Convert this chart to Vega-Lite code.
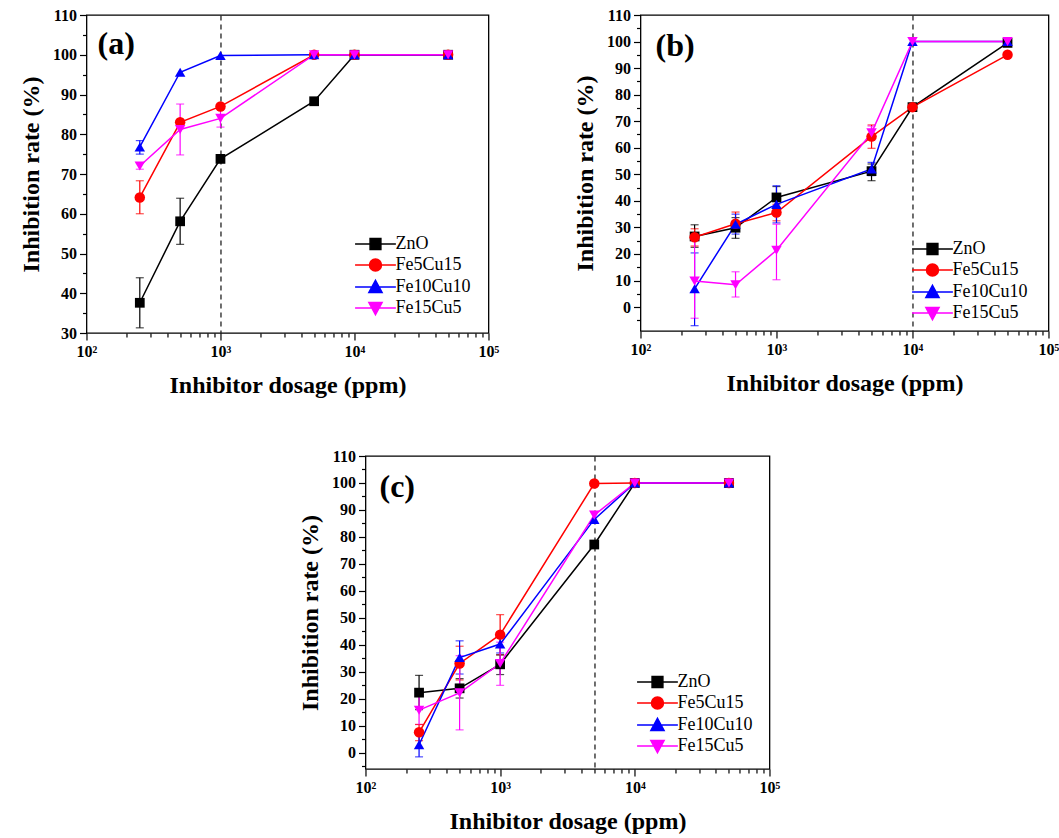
{
  "$schema": "https://vega.github.io/schema/vega-lite/v6.json",
  "background": "white",
  "padding": {"left": 18, "top": 6, "right": 0, "bottom": 5},
  "config": {
    "view": {"stroke": "black", "strokeWidth": 1.3},
    "font": "Liberation Serif",
    "axis": {"labelFont": "Liberation Serif", "labelFontWeight": "bold", "labelFontSize": 16, "labelColor": "black",
             "titleFont": "Liberation Serif", "titleFontWeight": "bold", "titleFontSize": 24, "titleColor": "black",
             "tickColor": "black", "tickWidth": 1.2, "domain": false, "grid": false, "labelOverlap": false, "labelFlush": false, "labelBound": false},
    "title": {"font": "Liberation Serif", "fontSize": 32, "fontWeight": "bold", "color": "black", "anchor": "start", "frame": "group", "baseline": "middle", "offset": 0},
    "legend": {"labelFont": "Liberation Serif", "labelFontSize": 18, "labelFontWeight": "normal", "labelColor": "black", "symbolOpacity": 1}
  },
  "datasets": {
    "a": [
      {"s": "ZnO", "d": 250, "r": 37.6, "lo": 31.3, "hi": 43.9},
      {"s": "ZnO", "d": 500, "r": 58.1, "lo": 52.3, "hi": 63.9},
      {"s": "ZnO", "d": 1000, "r": 73.8},
      {"s": "ZnO", "d": 5000, "r": 88.3},
      {"s": "ZnO", "d": 10000, "r": 100},
      {"s": "ZnO", "d": 50000, "r": 100},
      {"s": "Fe5Cu15", "d": 250, "r": 64.1, "lo": 60.0, "hi": 68.3},
      {"s": "Fe5Cu15", "d": 500, "r": 83.0},
      {"s": "Fe5Cu15", "d": 1000, "r": 87.0},
      {"s": "Fe5Cu15", "d": 5000, "r": 100},
      {"s": "Fe5Cu15", "d": 10000, "r": 100},
      {"s": "Fe5Cu15", "d": 50000, "r": 100},
      {"s": "Fe10Cu10", "d": 250, "r": 76.8, "lo": 75.0, "hi": 78.4},
      {"s": "Fe10Cu10", "d": 500, "r": 95.6},
      {"s": "Fe10Cu10", "d": 1000, "r": 99.8},
      {"s": "Fe10Cu10", "d": 5000, "r": 100},
      {"s": "Fe10Cu10", "d": 10000, "r": 100},
      {"s": "Fe10Cu10", "d": 50000, "r": 100},
      {"s": "Fe15Cu5", "d": 250, "r": 72.0, "lo": 71.2, "hi": 72.8},
      {"s": "Fe15Cu5", "d": 500, "r": 81.2, "lo": 74.8, "hi": 87.6},
      {"s": "Fe15Cu5", "d": 1000, "r": 84.0, "lo": 81.8, "hi": 86.2},
      {"s": "Fe15Cu5", "d": 5000, "r": 100},
      {"s": "Fe15Cu5", "d": 10000, "r": 100},
      {"s": "Fe15Cu5", "d": 50000, "r": 100}
    ],
    "b": [
      {"s": "ZnO", "d": 250, "r": 26.6, "lo": 22.5, "hi": 31.0},
      {"s": "ZnO", "d": 500, "r": 29.9, "lo": 25.9, "hi": 33.7},
      {"s": "ZnO", "d": 1000, "r": 41.3, "lo": 37.5, "hi": 45.4},
      {"s": "ZnO", "d": 5000, "r": 51.2, "lo": 47.6, "hi": 53.9},
      {"s": "ZnO", "d": 10000, "r": 75.3},
      {"s": "ZnO", "d": 50000, "r": 99.5},
      {"s": "Fe5Cu15", "d": 250, "r": 26.3, "lo": 23.0, "hi": 29.5},
      {"s": "Fe5Cu15", "d": 500, "r": 31.4, "lo": 28.6, "hi": 35.8},
      {"s": "Fe5Cu15", "d": 1000, "r": 35.6, "lo": 32.5, "hi": 38.7},
      {"s": "Fe5Cu15", "d": 5000, "r": 64.2, "lo": 59.8, "hi": 68.6},
      {"s": "Fe5Cu15", "d": 10000, "r": 75.3},
      {"s": "Fe5Cu15", "d": 50000, "r": 95.0},
      {"s": "Fe10Cu10", "d": 250, "r": 6.9, "lo": -7.0, "hi": 20.4},
      {"s": "Fe10Cu10", "d": 500, "r": 31.2, "lo": 27.5, "hi": 35.0},
      {"s": "Fe10Cu10", "d": 1000, "r": 38.7, "lo": 31.7, "hi": 45.7},
      {"s": "Fe10Cu10", "d": 5000, "r": 52.0, "lo": 49.5, "hi": 54.5},
      {"s": "Fe10Cu10", "d": 10000, "r": 100},
      {"s": "Fe10Cu10", "d": 50000, "r": 100},
      {"s": "Fe15Cu5", "d": 250, "r": 9.8, "lo": -4.2, "hi": 26.0},
      {"s": "Fe15Cu5", "d": 500, "r": 8.4, "lo": 3.8, "hi": 13.3},
      {"s": "Fe15Cu5", "d": 1000, "r": 21.4, "lo": 10.3, "hi": 31.2},
      {"s": "Fe15Cu5", "d": 5000, "r": 65.6, "lo": 63.0, "hi": 68.2},
      {"s": "Fe15Cu5", "d": 10000, "r": 100},
      {"s": "Fe15Cu5", "d": 50000, "r": 100}
    ],
    "c": [
      {"s": "ZnO", "d": 250, "r": 22.3, "lo": 16.0, "hi": 28.7},
      {"s": "ZnO", "d": 500, "r": 23.9, "lo": 20.3, "hi": 27.5},
      {"s": "ZnO", "d": 1000, "r": 32.8, "lo": 29.0, "hi": 36.3},
      {"s": "ZnO", "d": 5000, "r": 77.2},
      {"s": "ZnO", "d": 10000, "r": 100},
      {"s": "ZnO", "d": 50000, "r": 100},
      {"s": "Fe5Cu15", "d": 250, "r": 7.6, "lo": 4.5, "hi": 10.5},
      {"s": "Fe5Cu15", "d": 500, "r": 33.1, "lo": 27.0, "hi": 39.5},
      {"s": "Fe5Cu15", "d": 1000, "r": 43.8, "lo": 36.3, "hi": 51.2},
      {"s": "Fe5Cu15", "d": 5000, "r": 99.8},
      {"s": "Fe5Cu15", "d": 10000, "r": 100},
      {"s": "Fe5Cu15", "d": 50000, "r": 100},
      {"s": "Fe10Cu10", "d": 250, "r": 3.0, "lo": -1.5, "hi": 7.5},
      {"s": "Fe10Cu10", "d": 500, "r": 35.3, "lo": 29.2, "hi": 41.5},
      {"s": "Fe10Cu10", "d": 1000, "r": 40.3, "lo": 37.0, "hi": 43.5},
      {"s": "Fe10Cu10", "d": 5000, "r": 86.5},
      {"s": "Fe10Cu10", "d": 10000, "r": 100},
      {"s": "Fe10Cu10", "d": 50000, "r": 100},
      {"s": "Fe15Cu5", "d": 250, "r": 15.8, "lo": 10.5, "hi": 21.0},
      {"s": "Fe15Cu5", "d": 500, "r": 22.2, "lo": 8.5, "hi": 36.0},
      {"s": "Fe15Cu5", "d": 1000, "r": 33.1, "lo": 25.0, "hi": 41.0},
      {"s": "Fe15Cu5", "d": 5000, "r": 88.1},
      {"s": "Fe15Cu5", "d": 10000, "r": 100},
      {"s": "Fe15Cu5", "d": 50000, "r": 100}
    ]
  },
  "vconcat": [
    {
      "hconcat": [
        {
          "width": 402, "height": 318,
          "title": {"text": "(a)", "dx": 11, "dy": 58},
          "data": {"name": "a"},
          "encoding": {
            "x": {"field": "d", "type": "quantitative", "scale": {"type": "log", "domain": [100, 100000], "nice": false},
                  "axis": {"title": "Inhibitor dosage (ppm)", "values": [100,200,300,400,500,600,700,800,900,1000,2000,3000,4000,5000,6000,7000,8000,9000,10000,20000,30000,40000,50000,60000,70000,80000,90000,100000],
                           "labelExpr": "datum.value==100?'10²':datum.value==1000?'10³':datum.value==10000?'10⁴':datum.value==100000?'10⁵':''",
                           "tickSize": {"condition": {"test": "abs(log(datum.value)/LN10 - round(log(datum.value)/LN10)) < 0.001", "value": 7}, "value": 4},
                           "grid": true, "gridColor": "#222222", "gridDash": [5, 4], "gridWidth": 1.3,
                           "gridOpacity": {"condition": {"test": "datum.value == 1000", "value": 1}, "value": 0},
                           "labelPadding": 3, "titlePadding": 14}},
            "y": {"field": "r", "type": "quantitative", "scale": {"domain": [30, 110], "nice": false, "zero": false},
                  "axis": {"title": "Inhibition rate (%)", "values": [30,35,40,45,50,55,60,65,70,75,80,85,90,95,100,105,110],
                           "labelExpr": "datum.value % 10 == 0 ? datum.label : ''",
                           "tickSize": {"condition": {"test": "datum.value % 10 == 0", "value": 7}, "value": 4},
                           "labelPadding": 3, "titlePadding": 9}},
            "color": {"field": "s", "type": "nominal", "scale": {"domain": ["ZnO", "Fe5Cu15", "Fe10Cu10", "Fe15Cu5"], "range": ["#000000", "#ff0000", "#0000ff", "#ff00ff"]},
                      "legend": {"orient": "none", "legendX": 265, "legendY": 220, "title": null, "labelFont": "Liberation Serif", "labelFontSize": 18, "symbolSize": 144, "symbolOffset": 15, "labelOffset": 11, "rowPadding": 3, "symbolStrokeWidth": 1.5,
                                 "encode": {"symbols": {"update": {
                                   "shape": {"signal": "datum.value==='ZnO'?'M-3.4,0H3.4M-0.9,-0.9H0.9V0.9H-0.9Z':datum.value==='Fe5Cu15'?'M-3.4,0H3.4M1,0A1,1,0,1,1,-1,0A1,1,0,1,1,1,0Z':datum.value==='Fe10Cu10'?'M-3.4,0H3.4M0,-1.1L1.1,0.9H-1.1Z':'M-3.4,0H3.4M0,1.1L1.1,-0.9H-1.1Z'"},
                                   "fill": {"signal": "datum.value==='ZnO'?'#000000':datum.value==='Fe5Cu15'?'#ff0000':datum.value==='Fe10Cu10'?'#0000ff':'#ff00ff'"},
                                   "stroke": {"signal": "datum.value==='ZnO'?'#000000':datum.value==='Fe5Cu15'?'#ff0000':datum.value==='Fe10Cu10'?'#0000ff':'#ff00ff'"},
                                   "opacity": {"value": 1}}}}}}
          },
          "layer": [
            {"transform": [{"filter": "isValid(datum.lo)"}],
             "mark": {"type": "errorbar", "ticks": {"size": 8, "thickness": 1.2}, "thickness": 1.2},
             "encoding": {"y": {"field": "lo", "type": "quantitative", "scale": {"domain": [30, 110], "nice": false, "zero": false},
                                "axis": {"title": "Inhibition rate (%)", "values": [30,35,40,45,50,55,60,65,70,75,80,85,90,95,100,105,110],
                                         "labelExpr": "datum.value % 10 == 0 ? datum.label : ''",
                                         "tickSize": {"condition": {"test": "datum.value % 10 == 0", "value": 7}, "value": 4},
                                         "labelPadding": 3, "titlePadding": 9}},
                          "y2": {"field": "hi"}}},
            {"mark": {"type": "line", "strokeWidth": 1.5}},
            {"transform": [{"filter": "datum.s === 'ZnO'"}], "mark": {"type": "point", "shape": "square", "filled": true, "size": 95, "opacity": 1}},
            {"transform": [{"filter": "datum.s === 'Fe5Cu15'"}], "mark": {"type": "point", "shape": "circle", "filled": true, "size": 110, "opacity": 1}},
            {"transform": [{"filter": "datum.s === 'Fe10Cu10'"}], "mark": {"type": "point", "shape": "triangle-up", "filled": true, "size": 110, "opacity": 1}},
            {"transform": [{"filter": "datum.s === 'Fe15Cu5'"}], "mark": {"type": "point", "shape": "triangle-down", "filled": true, "size": 110, "opacity": 1}}
          ]
        },
        {
          "width": 408, "height": 316,
          "title": {"text": "(b)", "dx": 15, "dy": 60},
          "data": {"name": "b"},
          "encoding": {
            "x": {"field": "d", "type": "quantitative", "scale": {"type": "log", "domain": [100, 100000], "nice": false},
                  "axis": {"title": "Inhibitor dosage (ppm)", "values": [100,200,300,400,500,600,700,800,900,1000,2000,3000,4000,5000,6000,7000,8000,9000,10000,20000,30000,40000,50000,60000,70000,80000,90000,100000],
                           "labelExpr": "datum.value==100?'10²':datum.value==1000?'10³':datum.value==10000?'10⁴':datum.value==100000?'10⁵':''",
                           "tickSize": {"condition": {"test": "abs(log(datum.value)/LN10 - round(log(datum.value)/LN10)) < 0.001", "value": 7}, "value": 4},
                           "grid": true, "gridColor": "#222222", "gridDash": [5, 4], "gridWidth": 1.3,
                           "gridOpacity": {"condition": {"test": "datum.value == 10000", "value": 1}, "value": 0},
                           "labelPadding": 3, "titlePadding": 14}},
            "y": {"field": "r", "type": "quantitative", "scale": {"domain": [-9, 110], "nice": false, "zero": false},
                  "axis": {"title": "Inhibition rate (%)", "values": [-5,0,5,10,15,20,25,30,35,40,45,50,55,60,65,70,75,80,85,90,95,100,105,110],
                           "labelExpr": "datum.value % 10 == 0 ? datum.label : ''",
                           "tickSize": {"condition": {"test": "datum.value % 10 == 0", "value": 7}, "value": 4},
                           "labelPadding": 3, "titlePadding": 9}},
            "color": {"field": "s", "type": "nominal", "scale": {"domain": ["ZnO", "Fe5Cu15", "Fe10Cu10", "Fe15Cu5"], "range": ["#000000", "#ff0000", "#0000ff", "#ff00ff"]},
                      "legend": {"orient": "none", "legendX": 268, "legendY": 225, "title": null, "labelFont": "Liberation Serif", "labelFontSize": 18, "symbolSize": 144, "symbolOffset": 15, "labelOffset": 11, "rowPadding": 3, "symbolStrokeWidth": 1.5,
                                 "encode": {"symbols": {"update": {
                                   "shape": {"signal": "datum.value==='ZnO'?'M-3.4,0H3.4M-0.9,-0.9H0.9V0.9H-0.9Z':datum.value==='Fe5Cu15'?'M-3.4,0H3.4M1,0A1,1,0,1,1,-1,0A1,1,0,1,1,1,0Z':datum.value==='Fe10Cu10'?'M-3.4,0H3.4M0,-1.1L1.1,0.9H-1.1Z':'M-3.4,0H3.4M0,1.1L1.1,-0.9H-1.1Z'"},
                                   "fill": {"signal": "datum.value==='ZnO'?'#000000':datum.value==='Fe5Cu15'?'#ff0000':datum.value==='Fe10Cu10'?'#0000ff':'#ff00ff'"},
                                   "stroke": {"signal": "datum.value==='ZnO'?'#000000':datum.value==='Fe5Cu15'?'#ff0000':datum.value==='Fe10Cu10'?'#0000ff':'#ff00ff'"},
                                   "opacity": {"value": 1}}}}}}
          },
          "layer": [
            {"transform": [{"filter": "isValid(datum.lo)"}],
             "mark": {"type": "errorbar", "ticks": {"size": 8, "thickness": 1.2}, "thickness": 1.2},
             "encoding": {"y": {"field": "lo", "type": "quantitative", "scale": {"domain": [-9, 110], "nice": false, "zero": false},
                                "axis": {"title": "Inhibition rate (%)", "values": [-5,0,5,10,15,20,25,30,35,40,45,50,55,60,65,70,75,80,85,90,95,100,105,110],
                                         "labelExpr": "datum.value % 10 == 0 ? datum.label : ''",
                                         "tickSize": {"condition": {"test": "datum.value % 10 == 0", "value": 7}, "value": 4},
                                         "labelPadding": 3, "titlePadding": 9}},
                          "y2": {"field": "hi"}}},
            {"mark": {"type": "line", "strokeWidth": 1.5}},
            {"transform": [{"filter": "datum.s === 'ZnO'"}], "mark": {"type": "point", "shape": "square", "filled": true, "size": 95, "opacity": 1}},
            {"transform": [{"filter": "datum.s === 'Fe5Cu15'"}], "mark": {"type": "point", "shape": "circle", "filled": true, "size": 110, "opacity": 1}},
            {"transform": [{"filter": "datum.s === 'Fe10Cu10'"}], "mark": {"type": "point", "shape": "triangle-up", "filled": true, "size": 110, "opacity": 1}},
            {"transform": [{"filter": "datum.s === 'Fe15Cu5'"}], "mark": {"type": "point", "shape": "triangle-down", "filled": true, "size": 110, "opacity": 1}}
          ]
        }
      ],
      "spacing": 72,
      "resolve": {"scale": {"color": "independent"}, "legend": {"color": "independent"}}
    },
    {
      "width": 404, "height": 313,
      "title": {"text": "(c)", "dx": 14, "dy": 60},
      "data": {"name": "c"},
      "encoding": {
        "x": {"field": "d", "type": "quantitative", "scale": {"type": "log", "domain": [100, 100000], "nice": false},
              "axis": {"title": "Inhibitor dosage (ppm)", "values": [100,200,300,400,500,600,700,800,900,1000,2000,3000,4000,5000,6000,7000,8000,9000,10000,20000,30000,40000,50000,60000,70000,80000,90000,100000],
                       "labelExpr": "datum.value==100?'10²':datum.value==1000?'10³':datum.value==10000?'10⁴':datum.value==100000?'10⁵':''",
                       "tickSize": {"condition": {"test": "abs(log(datum.value)/LN10 - round(log(datum.value)/LN10)) < 0.001", "value": 7}, "value": 4},
                       "grid": true, "gridColor": "#222222", "gridDash": [5, 4], "gridWidth": 1.3,
                       "gridOpacity": {"condition": {"test": "datum.value == 5000", "value": 1}, "value": 0},
                       "labelPadding": 3, "titlePadding": 14}},
        "y": {"field": "r", "type": "quantitative", "scale": {"domain": [-6, 110], "nice": false, "zero": false},
              "axis": {"title": "Inhibition rate (%)", "values": [-5,0,5,10,15,20,25,30,35,40,45,50,55,60,65,70,75,80,85,90,95,100,105,110],
                       "labelExpr": "datum.value % 10 == 0 ? datum.label : ''",
                       "tickSize": {"condition": {"test": "datum.value % 10 == 0", "value": 7}, "value": 4},
                       "labelPadding": 3, "titlePadding": 9}},
        "color": {"field": "s", "type": "nominal", "scale": {"domain": ["ZnO", "Fe5Cu15", "Fe10Cu10", "Fe15Cu5"], "range": ["#000000", "#ff0000", "#0000ff", "#ff00ff"]},
                  "legend": {"orient": "none", "legendX": 268, "legendY": 217, "title": null, "labelFont": "Liberation Serif", "labelFontSize": 18, "symbolSize": 144, "symbolOffset": 15, "labelOffset": 11, "rowPadding": 3, "symbolStrokeWidth": 1.5,
                             "encode": {"symbols": {"update": {
                               "shape": {"signal": "datum.value==='ZnO'?'M-3.4,0H3.4M-0.9,-0.9H0.9V0.9H-0.9Z':datum.value==='Fe5Cu15'?'M-3.4,0H3.4M1,0A1,1,0,1,1,-1,0A1,1,0,1,1,1,0Z':datum.value==='Fe10Cu10'?'M-3.4,0H3.4M0,-1.1L1.1,0.9H-1.1Z':'M-3.4,0H3.4M0,1.1L1.1,-0.9H-1.1Z'"},
                               "fill": {"signal": "datum.value==='ZnO'?'#000000':datum.value==='Fe5Cu15'?'#ff0000':datum.value==='Fe10Cu10'?'#0000ff':'#ff00ff'"},
                               "stroke": {"signal": "datum.value==='ZnO'?'#000000':datum.value==='Fe5Cu15'?'#ff0000':datum.value==='Fe10Cu10'?'#0000ff':'#ff00ff'"},
                               "opacity": {"value": 1}}}}}}
      },
      "layer": [
        {"transform": [{"filter": "isValid(datum.lo)"}],
         "mark": {"type": "errorbar", "ticks": {"size": 8, "thickness": 1.2}, "thickness": 1.2},
         "encoding": {"y": {"field": "lo", "type": "quantitative", "scale": {"domain": [-6, 110], "nice": false, "zero": false},
                            "axis": {"title": "Inhibition rate (%)", "values": [-5,0,5,10,15,20,25,30,35,40,45,50,55,60,65,70,75,80,85,90,95,100,105,110],
                                     "labelExpr": "datum.value % 10 == 0 ? datum.label : ''",
                                     "tickSize": {"condition": {"test": "datum.value % 10 == 0", "value": 7}, "value": 4},
                                     "labelPadding": 3, "titlePadding": 9}},
                      "y2": {"field": "hi"}}},
        {"mark": {"type": "line", "strokeWidth": 1.5}},
        {"transform": [{"filter": "datum.s === 'ZnO'"}], "mark": {"type": "point", "shape": "square", "filled": true, "size": 95, "opacity": 1}},
        {"transform": [{"filter": "datum.s === 'Fe5Cu15'"}], "mark": {"type": "point", "shape": "circle", "filled": true, "size": 110, "opacity": 1}},
        {"transform": [{"filter": "datum.s === 'Fe10Cu10'"}], "mark": {"type": "point", "shape": "triangle-up", "filled": true, "size": 110, "opacity": 1}},
        {"transform": [{"filter": "datum.s === 'Fe15Cu5'"}], "mark": {"type": "point", "shape": "triangle-down", "filled": true, "size": 110, "opacity": 1}}
      ]
    }
  ],
  "spacing": 49,
  "center": true,
  "resolve": {"scale": {"color": "independent"}, "legend": {"color": "independent"}}
}
